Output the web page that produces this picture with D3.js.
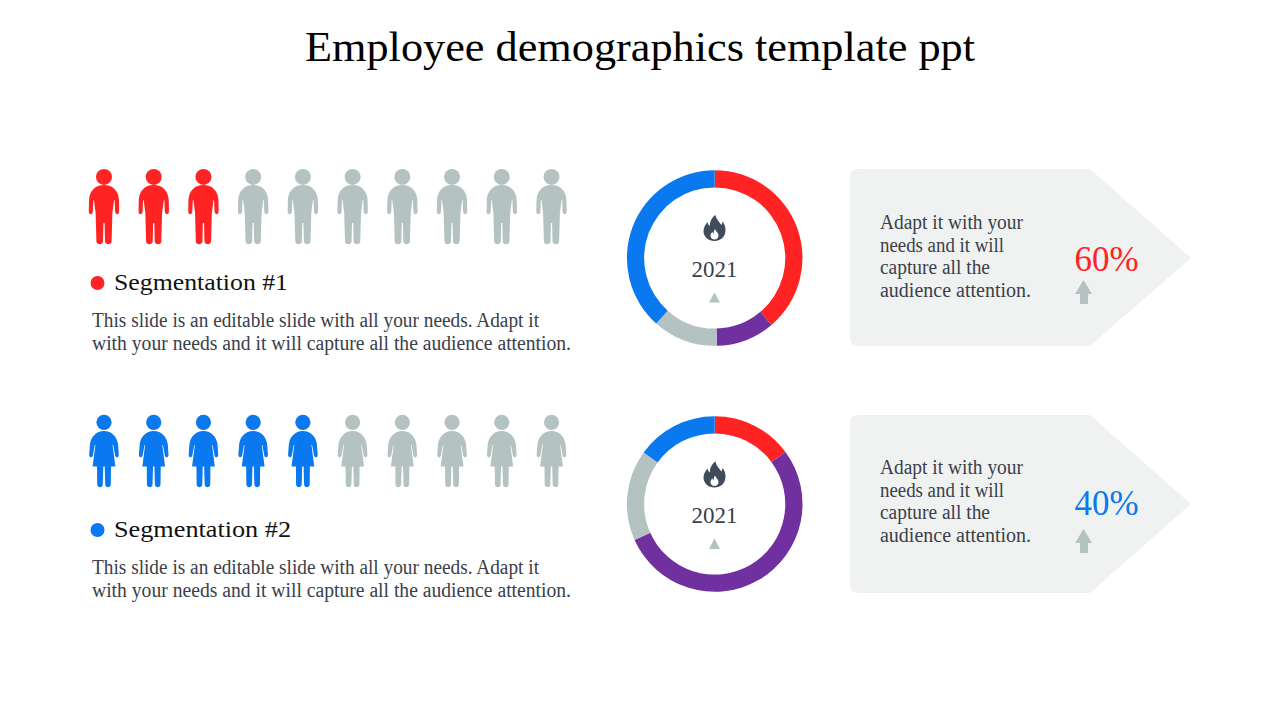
<!DOCTYPE html>
<html><head><meta charset="utf-8">
<script src="https://cdn.jsdelivr.net/npm/d3@7/dist/d3.min.js"></script>
<style>html,body{margin:0;padding:0;background:#fff}svg{display:block}text{font-family:"Liberation Serif",serif}</style>
</head><body><svg id="c" width="1280" height="720"></svg>
<script>
const title = "Employee demographics template ppt";
const segmentNames = ["Segmentation #1", "Segmentation #2"];
const sliceNames = ["Red", "Purple", "Grey", "Blue"];
const donut1 = [38.8, 10.8, 12, 38.4];
const donut2 = [14.9, 53.4, 16.7, 15];
const year = "2021";
const highlighted = [3, 5];
const peopleTotal = 10;
const percents = ["60%", "40%"];
const bodyLines = ["This slide is an editable slide with all your needs. Adapt it", "with your needs and it will capture all the audience attention."];
const calloutLines = ["Adapt it with your", "needs and it will", "capture all the", "audience attention."];

const RED="#ff2323", BLUE="#0a78ee", PURPLE="#7030a0", GREY="#b4c3c2", PANEL="#f0f2f2", INK="#3a404a";
const sliceColor = d3.scaleOrdinal(sliceNames,[RED,PURPLE,GREY,BLUE]);
const svg = d3.select("#c");

function fit(sel,w){ sel.attr("textLength",w).attr("lengthAdjust","spacingAndGlyphs"); return sel; }

fit(svg.append("text").attr("x",305).attr("y",61).attr("font-size",42).attr("fill","#000").text(title),670);

const man = "M0 16 C-9 16 -14.4 22 -15 31 L-15.2 42.5 C-15.2 46.2 -11.4 46.2 -11.1 42.5 L-10.7 32 C-10.5 30.5 -10 30.5 -9.9 32 L-8.4 44 L-7.6 72.5 C-7.4 76.2 -1.4 76.2 -1 72.5 L-0.6 54 L0.6 54 L1 72.5 C1.4 76.2 7.4 76.2 7.6 72.5 L8.4 44 L9.9 32 C10 30.5 10.5 30.5 10.7 32 L11.1 42.5 C11.4 46.2 15.2 46.2 15.2 42.5 L15 31 C14.4 22 9 16 0 16 Z";
const woman = "M0 17 C-8 17 -13 23 -14 30 L-14.8 40.5 C-15 44 -11.4 44.3 -11 41 L-9.2 31 L-8.6 31 L-11.4 52.5 L-7 52.5 L-6.8 70.5 C-6.6 74.1 -1.4 74.1 -1.2 70.5 L-0.7 52.5 L0.7 52.5 L1.2 70.5 C1.4 74.1 6.6 74.1 6.8 70.5 L7 52.5 L11.4 52.5 L8.6 31 L9.2 31 L11 41 C11.4 44.3 15 44 14.8 40.5 L14 30 C13 23 8 17 0 17 Z";
const flame = "M1 -14 C2 -9 5 -7 7 -4 C8 -6 8 -7 7.6 -8 C10 -5.5 11 -2 11 1 C11 8 6 12 0 12 C-6 12 -11 8 -11 2 C-11 -2 -8.5 -5 -7 -7 C-6.5 -5 -6 -4 -4.5 -3 C-5 -8 -2 -12 1 -14 Z";
const flameInner = "M0.5 0 C1 2 4 3.5 4 6.5 C4 9 2 10.5 0 10.5 C-2 10.5 -4 9 -4 6.5 C-4 5 -3 3.5 -2 3 C-1.8 4 -1.4 4.6 -0.8 5 C-1 3 -0.5 1 0.5 0 Z";

const x = d3.scalePoint().domain(d3.range(peopleTotal)).range([104,551.5]);
const pie = d3.pie().sort(null).value(d=>d);
const arc = d3.arc().innerRadius(70.6).outerRadius(87.8);

const rows = [
 {i:0,top:169,path:man,head:[7.9,8],color:RED,donut:donut1,cy:258,segY:290,bullet:283,bodyY:[326.5,349.5],yearY:277,tri:[292.5,302.5],flameY:229,panel:[169,346],tip:258,
  pctY:271,arrow:280,callY:[229,252,274,297]},
 {i:1,top:414,path:woman,head:[8.3,7.6],color:BLUE,donut:donut2,cy:504,segY:537,bullet:530,bodyY:[573.5,596.5],yearY:523,tri:[538.5,549],flameY:475.5,panel:[415,593],tip:504,
  pctY:515,arrow:529,callY:[474,497,519,542]}
];

rows.forEach(r=>{
  const g = svg.append("g");
  const p = g.selectAll("g.p").data(d3.range(peopleTotal)).join("g").attr("transform",d=>`translate(${x(d)},${r.top})`).attr("fill",d=>d<highlighted[r.i]?r.color:GREY);
  p.append("circle").attr("cy",r.head[0]).attr("r",r.head[1]);
  p.append("path").attr("d",r.path);

  g.append("circle").attr("cx",97.5).attr("cy",r.bullet).attr("r",7).attr("fill",r.color);
  fit(g.append("text").attr("x",114).attr("y",r.segY).attr("font-size",23).attr("fill","#111").text(segmentNames[r.i]),r.i?177:174);
  bodyLines.forEach((t,k)=>fit(g.append("text").attr("x",92).attr("y",r.bodyY[k]).attr("font-size",20).attr("fill",INK).text(t),k?479:447));

  const d = g.append("g").attr("transform",`translate(714.7,${r.cy})`);
  d.selectAll("path").data(pie(r.donut)).join("path").attr("d",arc).attr("fill",(s,k)=>sliceColor(sliceNames[k]));
  fit(g.append("text").attr("x",691.5).attr("y",r.yearY).attr("font-size",24).attr("fill",INK).text(year),46);
  g.append("path").attr("d",`M714.5 ${r.tri[0]} L720 ${r.tri[1]} L709 ${r.tri[1]} Z`).attr("fill",GREY);
  const f = g.append("g").attr("transform",`translate(714.5,${r.flameY})`);
  f.append("path").attr("d",flame).attr("fill","#414c5a");
  f.append("path").attr("d",flameInner).attr("fill","#fff");

  const [a,b]=r.panel;
  g.append("path").attr("d",`M858 ${a} L1090 ${a} L1191 ${r.tip} L1090 ${b} L858 ${b} Q850 ${b} 850 ${b-8} L850 ${a+8} Q850 ${a} 858 ${a} Z`).attr("fill",PANEL);
  calloutLines.forEach((t,k)=>fit(g.append("text").attr("x",880).attr("y",r.callY[k]).attr("font-size",20).attr("fill",INK).text(t),[143,124,110,151][k]));
  fit(g.append("text").attr("x",1074.5).attr("y",r.pctY).attr("font-size",36).attr("fill",r.color).text(percents[r.i]),64);
  const y0=r.arrow;
  g.append("path").attr("d",`M1083.5 ${y0} L1092 ${y0+14} L1088 ${y0+14} L1088 ${y0+24} L1080 ${y0+24} L1080 ${y0+14} L1075 ${y0+14} Z`).attr("fill",GREY);
});
</script></body></html>
